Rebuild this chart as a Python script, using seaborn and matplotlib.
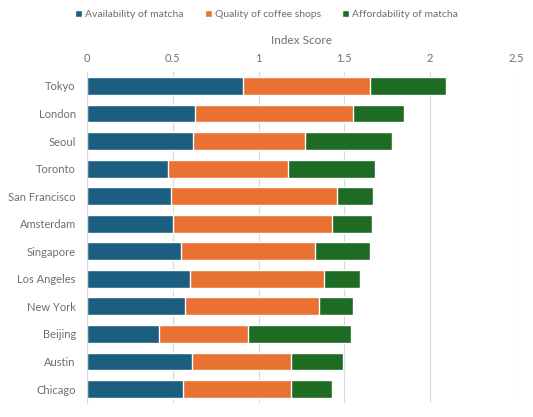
import matplotlib
matplotlib.use("Agg")
import matplotlib.pyplot as plt
import seaborn as sns
import pandas as pd
import numpy as np

cities = ["Tokyo", "London", "Seoul", "Toronto", "San Francisco", "Amsterdam",
          "Singapore", "Los Angeles", "New York", "Beijing", "Austin", "Chicago"]
availability = [0.91, 0.63, 0.62, 0.47, 0.49, 0.50, 0.55, 0.60, 0.57, 0.42, 0.61, 0.56]
quality = [0.74, 0.92, 0.65, 0.70, 0.97, 0.93, 0.78, 0.78, 0.78, 0.52, 0.58, 0.63]
affordability = [0.44, 0.30, 0.51, 0.51, 0.21, 0.23, 0.32, 0.21, 0.20, 0.60, 0.30, 0.24]
series_names = ["Availability of matcha", "Quality of coffee shops", "Affordability of matcha"]
colors = ["#1b5e80", "#e97132", "#1e6b23"]
xticks = [0, 0.5, 1, 1.5, 2, 2.5]

sns.set_theme(style="white")
plt.rcParams['font.family'] = ['Lato', 'DejaVu Sans']
txt = "#6e6e6e"

df = pd.DataFrame({"city": cities, "a": availability, "q": quality, "f": affordability})
df["c1"] = df["a"]
df["c2"] = df["a"] + df["q"]
df["c3"] = df["c2"] + df["f"]

fig = plt.figure(figsize=(5.33, 4.17), dpi=100)
ax = fig.add_axes([0.163, 0.034, 0.805, 0.793])

for col, color, name in zip(["c3", "c2", "c1"], colors[::-1], series_names[::-1]):
    sns.barplot(data=df, x=col, y="city", color=color, ax=ax, width=0.65,
                saturation=1, label=name, orient="h")

ax.set_xlim(0, 2.5)
ax.set_xticks(xticks)
ax.set_xticklabels([f"{t:g}" for t in xticks])
ax.xaxis.tick_top()
ax.xaxis.set_label_position("top")
ax.set_xlabel("Index Score", color=txt, fontsize=8.5, labelpad=6)
ax.set_ylabel("")
ax.tick_params(axis="both", length=0, colors=txt, labelsize=8)
ax.tick_params(axis="x", pad=6)
ax.tick_params(axis="y", pad=8)
ax.grid(axis="x", color="#d9d9d9", linewidth=0.8)
ax.set_axisbelow(True)
for s in ["top", "right", "bottom"]:
    ax.spines[s].set_visible(False)
ax.spines["left"].set_color("#d9d9d9")
ax.spines["left"].set_linewidth(0.8)

handles, labels = ax.get_legend_handles_labels()
order = [labels.index(n) for n in series_names]
ax.legend([handles[i] for i in order], series_names, loc="upper center",
          bbox_to_anchor=(0.5, 0.999), bbox_transform=fig.transFigure, ncol=3, frameon=False,
          fontsize=7.5, handlelength=0.7, handleheight=0.7, handletextpad=0.3,
          columnspacing=2.0, labelcolor=txt)

fig.savefig("out.png", dpi=100)
